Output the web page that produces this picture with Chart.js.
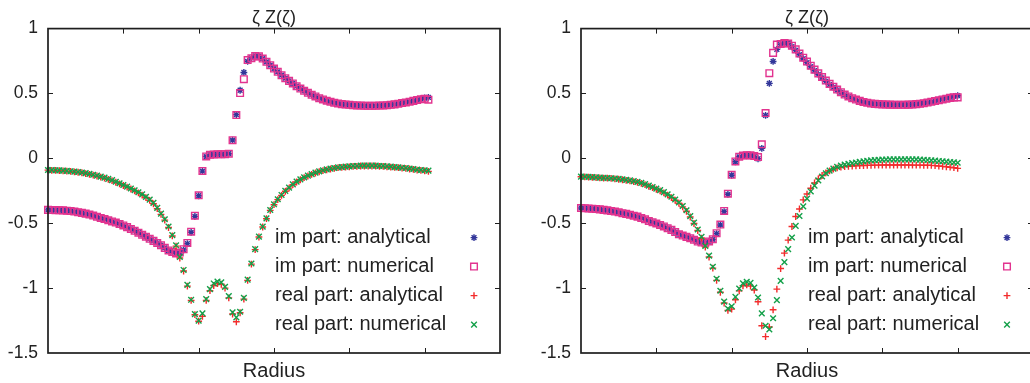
<!DOCTYPE html>
<html>
<head>
<meta charset="utf-8">
<script src="https://cdn.jsdelivr.net/npm/chart.js@4.4.0/dist/chart.umd.min.js"></script>
<style>
  html, body { margin: 0; padding: 0; background: #fff; overflow: hidden; }
  #wrap { position: relative; width: 1030px; height: 383px; }
  #left { position: absolute; left: 0; top: 0; }
  #rightBox { position: absolute; left: 515px; top: 0; width: 515px; height: 383px; overflow: hidden; }
</style>
</head>
<body>
<div id="wrap">
  <canvas id="left" width="515" height="383"></canvas>
  <div id="rightBox"><canvas id="right" width="533" height="383"></canvas></div>
</div>
<script>
// radius grid (shared by both panels)
const radius = [
  0.00, 0.05, 0.10, 0.15, 0.20, 0.25, 0.30, 0.35, 0.40, 0.45,
  0.50, 0.55, 0.60, 0.65, 0.70, 0.75, 0.80, 0.85, 0.90, 0.95,
  1.00, 1.05, 1.10, 1.15, 1.20, 1.25, 1.30, 1.35, 1.40, 1.45,
  1.50, 1.55, 1.60, 1.65, 1.70, 1.75, 1.80, 1.85, 1.90, 1.95,
  2.00, 2.05, 2.10, 2.15, 2.20, 2.25, 2.30, 2.35, 2.40, 2.45,
  2.50, 2.55, 2.60, 2.65, 2.70, 2.75, 2.80, 2.85, 2.90, 2.95,
  3.00, 3.05, 3.10, 3.15, 3.20, 3.25, 3.30, 3.35, 3.40, 3.45,
  3.50, 3.55, 3.60, 3.65, 3.70, 3.75, 3.80, 3.85, 3.90, 3.95,
  4.00, 4.05, 4.10, 4.15, 4.20, 4.25, 4.30, 4.35, 4.40, 4.45,
  4.50, 4.55, 4.60, 4.65, 4.70, 4.75, 4.80, 4.85, 4.90, 4.95,
  5.00, 5.05
];

// left panel
const imAnaLeft = [
  -0.397, -0.398, -0.399, -0.400, -0.401, -0.403, -0.405, -0.410, -0.415, -0.420,
  -0.426, -0.433, -0.441, -0.450, -0.459, -0.468, -0.477, -0.486, -0.495, -0.506,
  -0.517, -0.530, -0.544, -0.558, -0.573, -0.589, -0.604, -0.620, -0.636, -0.652,
  -0.669, -0.690, -0.710, -0.722, -0.733, -0.728, -0.705, -0.657, -0.570, -0.448,
  -0.288, -0.098, 0.014, 0.028, 0.030, 0.031, 0.031, 0.032, 0.036, 0.141,
  0.337, 0.525, 0.662, 0.748, 0.775, 0.790, 0.786, 0.769, 0.744, 0.718,
  0.692, 0.667, 0.641, 0.618, 0.597, 0.577, 0.556, 0.538, 0.521, 0.505,
  0.490, 0.477, 0.464, 0.454, 0.444, 0.436, 0.428, 0.423, 0.418, 0.415,
  0.413, 0.410, 0.408, 0.407, 0.405, 0.405, 0.405, 0.405, 0.407, 0.408,
  0.410, 0.413, 0.416, 0.421, 0.426, 0.431, 0.437, 0.444, 0.451, 0.458,
  0.465, 0.470
];
const imNumLeft = [
  -0.397, -0.398, -0.399, -0.400, -0.401, -0.403, -0.405, -0.410, -0.415, -0.420,
  -0.426, -0.433, -0.441, -0.450, -0.459, -0.468, -0.477, -0.486, -0.495, -0.506,
  -0.517, -0.530, -0.544, -0.558, -0.573, -0.589, -0.604, -0.620, -0.636, -0.652,
  -0.669, -0.690, -0.710, -0.722, -0.733, -0.726, -0.700, -0.652, -0.565, -0.442,
  -0.285, -0.097, 0.015, 0.028, 0.030, 0.031, 0.031, 0.032, 0.036, 0.140,
  0.334, 0.503, 0.610, 0.758, 0.772, 0.788, 0.786, 0.769, 0.744, 0.718,
  0.692, 0.667, 0.641, 0.618, 0.597, 0.577, 0.556, 0.538, 0.521, 0.505,
  0.490, 0.477, 0.464, 0.454, 0.444, 0.436, 0.428, 0.423, 0.418, 0.415,
  0.413, 0.410, 0.408, 0.407, 0.405, 0.405, 0.405, 0.405, 0.407, 0.408,
  0.410, 0.413, 0.416, 0.421, 0.426, 0.431, 0.437, 0.443, 0.449, 0.455,
  0.460, 0.452
];
const reAnaLeft = [
  -0.091, -0.092, -0.093, -0.094, -0.096, -0.098, -0.101, -0.104, -0.107, -0.111,
  -0.117, -0.123, -0.129, -0.136, -0.144, -0.153, -0.162, -0.172, -0.184, -0.196,
  -0.209, -0.222, -0.236, -0.251, -0.266, -0.283, -0.302, -0.324, -0.350, -0.388,
  -0.432, -0.476, -0.533, -0.598, -0.676, -0.768, -0.868, -0.985, -1.095, -1.205,
  -1.255, -1.218, -1.095, -1.020, -0.980, -0.965, -0.970, -1.000, -1.075, -1.200,
  -1.259, -1.190, -1.085, -0.940, -0.815, -0.703, -0.606, -0.529, -0.465, -0.401,
  -0.357, -0.318, -0.285, -0.254, -0.229, -0.203, -0.182, -0.165, -0.149, -0.136,
  -0.124, -0.113, -0.103, -0.095, -0.088, -0.082, -0.077, -0.072, -0.070, -0.067,
  -0.065, -0.062, -0.062, -0.059, -0.059, -0.059, -0.059, -0.059, -0.062, -0.062,
  -0.065, -0.067, -0.070, -0.072, -0.075, -0.077, -0.082, -0.085, -0.090, -0.093,
  -0.096, -0.100
];
const reNumLeft = [
  -0.090, -0.091, -0.092, -0.093, -0.095, -0.097, -0.099, -0.102, -0.105, -0.109,
  -0.114, -0.120, -0.126, -0.133, -0.141, -0.149, -0.158, -0.168, -0.180, -0.192,
  -0.205, -0.218, -0.232, -0.246, -0.261, -0.278, -0.297, -0.318, -0.343, -0.382,
  -0.426, -0.469, -0.525, -0.592, -0.670, -0.760, -0.860, -0.975, -1.090, -1.200,
  -1.251, -1.195, -1.085, -1.008, -0.964, -0.949, -0.956, -0.990, -1.062, -1.187,
  -1.226, -1.182, -1.075, -0.935, -0.810, -0.700, -0.603, -0.526, -0.462, -0.398,
  -0.354, -0.315, -0.282, -0.251, -0.226, -0.200, -0.179, -0.162, -0.146, -0.133,
  -0.121, -0.110, -0.100, -0.092, -0.085, -0.079, -0.074, -0.069, -0.067, -0.064,
  -0.062, -0.059, -0.059, -0.056, -0.056, -0.056, -0.056, -0.056, -0.059, -0.059,
  -0.062, -0.064, -0.067, -0.069, -0.072, -0.074, -0.079, -0.082, -0.087, -0.090,
  -0.092, -0.095
];

// right panel
const imAnaRight = [
  -0.382, -0.384, -0.386, -0.388, -0.390, -0.393, -0.397, -0.401, -0.405, -0.410,
  -0.416, -0.423, -0.428, -0.435, -0.442, -0.449, -0.459, -0.470, -0.482, -0.492,
  -0.502, -0.513, -0.525, -0.538, -0.551, -0.568, -0.585, -0.595, -0.605, -0.615,
  -0.628, -0.641, -0.649, -0.650, -0.640, -0.625, -0.580, -0.513, -0.410, -0.277,
  -0.130, -0.026, 0.012, 0.021, 0.023, 0.022, 0.016, -0.003, 0.077, 0.331,
  0.578, 0.747, 0.840, 0.877, 0.888, 0.887, 0.860, 0.832, 0.800, 0.768,
  0.738, 0.706, 0.676, 0.648, 0.620, 0.594, 0.569, 0.548, 0.527, 0.508,
  0.490, 0.476, 0.463, 0.452, 0.442, 0.434, 0.428, 0.423, 0.420, 0.418,
  0.416, 0.415, 0.414, 0.413, 0.413, 0.413, 0.413, 0.414, 0.415, 0.418,
  0.421, 0.425, 0.430, 0.436, 0.443, 0.450, 0.457, 0.464, 0.471, 0.477,
  0.483
];
const imNumRight = [
  -0.382, -0.384, -0.386, -0.388, -0.390, -0.393, -0.397, -0.401, -0.405, -0.410,
  -0.416, -0.423, -0.428, -0.435, -0.442, -0.449, -0.459, -0.470, -0.482, -0.492,
  -0.502, -0.513, -0.525, -0.538, -0.551, -0.568, -0.585, -0.595, -0.605, -0.615,
  -0.628, -0.641, -0.649, -0.650, -0.640, -0.623, -0.577, -0.510, -0.405, -0.272,
  -0.127, -0.024, 0.013, 0.022, 0.024, 0.023, 0.018, 0.010, 0.108, 0.349,
  0.656, 0.813, 0.877, 0.882, 0.888, 0.885, 0.868, 0.840, 0.808, 0.776,
  0.746, 0.714, 0.684, 0.655, 0.627, 0.600, 0.574, 0.552, 0.530, 0.510,
  0.492, 0.477, 0.464, 0.453, 0.443, 0.435, 0.428, 0.423, 0.420, 0.418,
  0.416, 0.415, 0.414, 0.413, 0.413, 0.413, 0.413, 0.414, 0.415, 0.418,
  0.421, 0.425, 0.430, 0.436, 0.442, 0.448, 0.454, 0.460, 0.466, 0.470,
  0.470
];
const reAnaRight = [
  -0.142, -0.143, -0.144, -0.146, -0.148, -0.150, -0.152, -0.153, -0.155, -0.158,
  -0.161, -0.165, -0.169, -0.174, -0.179, -0.185, -0.193, -0.203, -0.215, -0.226,
  -0.238, -0.251, -0.266, -0.283, -0.302, -0.323, -0.346, -0.374, -0.408, -0.452,
  -0.502, -0.556, -0.614, -0.684, -0.760, -0.846, -0.940, -1.032, -1.115, -1.172,
  -1.162, -1.090, -1.021, -0.982, -0.975, -0.985, -1.015, -1.105, -1.290, -1.374,
  -1.300, -1.167, -1.008, -0.849, -0.730, -0.630, -0.525, -0.448, -0.390, -0.320,
  -0.275, -0.230, -0.190, -0.158, -0.132, -0.112, -0.096, -0.083, -0.074, -0.068,
  -0.064, -0.061, -0.059, -0.057, -0.056, -0.055, -0.054, -0.053, -0.052, -0.052,
  -0.051, -0.051, -0.051, -0.051, -0.051, -0.051, -0.051, -0.051, -0.052, -0.052,
  -0.052, -0.053, -0.053, -0.054, -0.056, -0.059, -0.062, -0.065, -0.068, -0.072,
  -0.077
];
const reNumRight = [
  -0.141, -0.142, -0.143, -0.145, -0.147, -0.149, -0.150, -0.151, -0.153, -0.155,
  -0.158, -0.162, -0.166, -0.170, -0.175, -0.181, -0.189, -0.198, -0.210, -0.221,
  -0.233, -0.245, -0.260, -0.277, -0.296, -0.317, -0.340, -0.367, -0.400, -0.445,
  -0.495, -0.548, -0.605, -0.675, -0.750, -0.835, -0.928, -1.020, -1.104, -1.158,
  -1.140, -1.067, -1.003, -0.963, -0.951, -0.960, -0.995, -1.072, -1.195, -1.290,
  -1.318, -1.232, -1.092, -0.944, -0.800, -0.700, -0.610, -0.520, -0.444, -0.370,
  -0.310, -0.255, -0.210, -0.170, -0.140, -0.115, -0.095, -0.079, -0.066, -0.056,
  -0.048, -0.042, -0.037, -0.032, -0.027, -0.023, -0.019, -0.016, -0.014, -0.012,
  -0.010, -0.009, -0.008, -0.008, -0.008, -0.008, -0.008, -0.008, -0.008, -0.008,
  -0.010, -0.011, -0.013, -0.015, -0.017, -0.020, -0.022, -0.025, -0.028, -0.031,
  -0.034
];

const seriesLabels = ["im part: analytical", "im part: numerical", "real part: analytical", "real part: numerical"];
const yTicks = [-1.5, -1, -0.5, 0, 0.5, 1];

const styles = [
  { color: "#33379a", pointStyle: "star", radius: 3.4, order: 4 },
  { color: "#e2338f", pointStyle: "rect", radius: 4.7, order: 3 },
  { color: "#f22c2c", pointStyle: "cross", radius: 3.4, order: 2 },
  { color: "#13a049", pointStyle: "crossRot", radius: 4.0, order: 1 },
];

Chart.defaults.font.family = "'Liberation Sans', Arial, Helvetica, sans-serif";
Chart.defaults.color = "#222";

function toPoints(values) {
  return values.map((v, i) => ({ x: radius[i], y: v }));
}

// frame with inward ticks on all four sides
const framePlugin = {
  id: "frame",
  afterDatasetsDraw(chart) {
    const { ctx, chartArea: a, scales } = chart;
    const tl = 5;
    ctx.save();
    ctx.strokeStyle = "#1e1e1e";
    ctx.lineWidth = 1;
    ctx.beginPath();
    scales.x.ticks.forEach((t) => {
      const px = Math.round(scales.x.getPixelForValue(t.value)) + 0.5;
      if (px <= a.left + 2 || px >= a.right - 2) return;
      ctx.moveTo(px, a.bottom); ctx.lineTo(px, a.bottom - tl);
      ctx.moveTo(px, a.top); ctx.lineTo(px, a.top + tl);
    });
    scales.y.ticks.forEach((t) => {
      const py = Math.round(scales.y.getPixelForValue(t.value)) + 0.5;
      if (py <= a.top + 2 || py >= a.bottom - 2) return;
      ctx.moveTo(a.left, py); ctx.lineTo(a.left + tl, py);
      ctx.moveTo(a.right, py); ctx.lineTo(a.right - tl, py);
    });
    ctx.stroke();
    ctx.lineWidth = 1.7;
    ctx.strokeRect(a.left, a.top, a.right - a.left, a.bottom - a.top);
    ctx.restore();
  },
};

// key: text on the left, symbol on the right
const keyPlugin = {
  id: "key",
  afterDraw(chart) {
    const { ctx, chartArea: a } = chart;
    ctx.save();
    ctx.font = "20px 'Liberation Sans', Arial, sans-serif";
    ctx.textAlign = "left";
    ctx.textBaseline = "middle";
    seriesLabels.forEach((label, i) => {
      const y = a.top + 209 + i * 29;
      ctx.fillStyle = "#222";
      ctx.fillText(label, a.left + 227, y);
      const s = styles[i];
      ctx.strokeStyle = s.color;
      ctx.fillStyle = "rgba(0,0,0,0)";
      ctx.lineWidth = 1.4;
      Chart.helpers.drawPoint(ctx, { pointStyle: s.pointStyle, radius: s.radius, rotation: 0, borderWidth: 1.4 }, a.left + 426, y);
    });
    ctx.restore();
  },
};

function makePanel(canvasId, yWidth, data) {
  const datasets = data.map((values, i) => ({
    label: seriesLabels[i],
    data: toPoints(values),
    showLine: false,
    pointStyle: styles[i].pointStyle,
    pointRadius: styles[i].radius,
    pointBorderWidth: 1.4,
    pointBorderColor: styles[i].color,
    pointBackgroundColor: "rgba(0,0,0,0)",
    order: styles[i].order,
    clip: false,
  }));

  return new Chart(document.getElementById(canvasId), {
    type: "scatter",
    data: { datasets },
    options: {
      responsive: false,
      animation: false,
      events: [],
      layout: { padding: { left: 0, right: 15, top: 0, bottom: 0 } },
      plugins: {
        legend: { display: false },
        tooltip: { enabled: false },
        title: {
          display: true,
          text: "ζ Z(ζ)",
          fullSize: false,
          font: { size: 18, weight: "normal" },
          padding: { top: 7, bottom: 0 },
          color: "#222",
        },
      },
      scales: {
        x: {
          type: "linear",
          min: 0,
          max: 6,
          ticks: { display: false, stepSize: 1 },
          grid: { display: false, drawTicks: false },
          border: { display: false },
          title: {
            display: true,
            text: "Radius",
            font: { size: 20 },
            padding: { top: 0, bottom: 0 },
            color: "#222",
          },
          afterFit(s) { s.height = 30; },
        },
        y: {
          min: -1.5,
          max: 1,
          afterBuildTicks(s) { s.ticks = yTicks.map((v) => ({ value: v })); },
          ticks: {
            font: { size: 17.5 },
            padding: 10,
            color: "#222",
            callback: (v) => String(v),
          },
          grid: { display: false, drawTicks: false },
          border: { display: false },
          afterFit(s) { s.width = yWidth; },
        },
      },
    },
    plugins: [framePlugin, keyPlugin],
  });
}

makePanel("left", 48, [imAnaLeft, imNumLeft, reAnaLeft, reNumLeft]);
makePanel("right", 66, [imAnaRight, imNumRight, reAnaRight, reNumRight]);
</script>
</body>
</html>
